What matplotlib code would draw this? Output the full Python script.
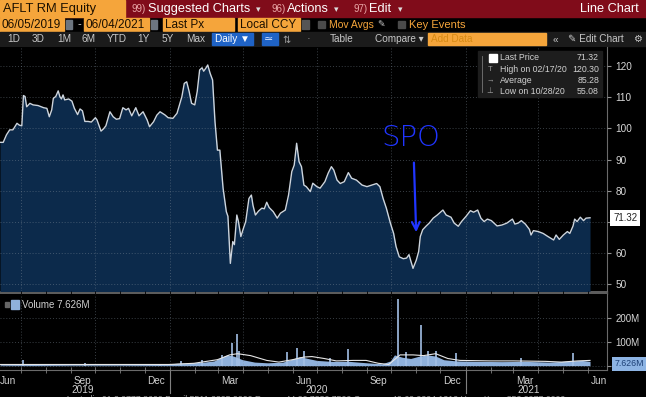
import matplotlib
matplotlib.use('Agg')
import matplotlib.pyplot as plt
import matplotlib.dates as mdates
import matplotlib.transforms as mtrans
from matplotlib.patches import Rectangle
import pandas as pd

plt.rcParams['font.family'] = ['Liberation Sans', 'DejaVu Sans']

# --- data ---
price_dates = [
    '2019-06-05', '2019-06-09', '2019-06-13', '2019-06-17', '2019-06-21', '2019-06-26', '2019-06-29',
    '2019-07-02', '2019-07-04', '2019-07-06', '2019-07-08', '2019-07-12', '2019-07-16', '2019-07-22',
    '2019-07-29', '2019-08-02', '2019-08-05', '2019-08-08', '2019-08-10', '2019-08-13', '2019-08-16',
    '2019-08-18', '2019-08-20', '2019-08-22', '2019-08-24', '2019-08-29', '2019-09-02', '2019-09-05',
    '2019-09-09', '2019-09-12', '2019-09-15', '2019-09-18', '2019-09-22', '2019-09-26', '2019-10-01',
    '2019-10-03', '2019-10-08', '2019-10-11', '2019-10-14', '2019-10-19', '2019-10-23', '2019-10-27',
    '2019-10-31', '2019-11-04', '2019-11-08', '2019-11-11', '2019-11-15', '2019-11-20', '2019-11-24',
    '2019-11-29', '2019-12-04', '2019-12-07', '2019-12-12', '2019-12-16', '2019-12-20', '2019-12-26',
    '2019-12-30', '2020-01-05', '2020-01-10', '2020-01-13', '2020-01-16', '2020-01-19', '2020-01-22',
    '2020-01-25', '2020-01-28', '2020-02-01', '2020-02-04', '2020-02-07', '2020-02-10', '2020-02-12',
    '2020-02-15', '2020-02-17', '2020-02-20', '2020-02-23', '2020-02-26', '2020-02-29', '2020-03-03',
    '2020-03-07', '2020-03-11', '2020-03-13', '2020-03-16', '2020-03-19', '2020-03-21', '2020-03-24',
    '2020-03-26', '2020-03-29', '2020-04-01', '2020-04-04', '2020-04-08', '2020-04-11', '2020-04-13',
    '2020-04-16', '2020-04-20', '2020-04-24', '2020-04-27', '2020-04-30', '2020-05-03', '2020-05-08',
    '2020-05-13', '2020-05-17', '2020-05-23', '2020-05-27', '2020-05-31', '2020-06-03', '2020-06-06',
    '2020-06-09', '2020-06-12', '2020-06-15', '2020-06-18', '2020-06-23', '2020-06-26', '2020-07-01',
    '2020-07-05', '2020-07-11', '2020-07-15', '2020-07-19', '2020-07-22', '2020-07-26', '2020-07-30',
    '2020-08-04', '2020-08-09', '2020-08-13', '2020-08-19', '2020-08-26', '2020-09-01', '2020-09-07',
    '2020-09-13', '2020-09-17', '2020-09-21', '2020-09-25', '2020-09-30', '2020-10-04', '2020-10-07',
    '2020-10-11', '2020-10-16', '2020-10-20', '2020-10-23', '2020-10-28', '2020-11-01', '2020-11-04',
    '2020-11-06', '2020-11-09', '2020-11-13', '2020-11-17', '2020-11-22', '2020-11-27', '2020-12-04',
    '2020-12-08', '2020-12-14', '2020-12-18', '2020-12-23', '2020-12-27', '2021-01-02', '2021-01-07',
    '2021-01-11', '2021-01-16', '2021-01-20', '2021-01-24', '2021-01-28', '2021-02-02', '2021-02-09',
    '2021-02-15', '2021-02-21', '2021-02-28', '2021-03-03', '2021-03-07', '2021-03-11', '2021-03-16',
    '2021-03-21', '2021-03-23', '2021-03-26', '2021-04-01', '2021-04-07', '2021-04-13', '2021-04-20',
    '2021-04-23', '2021-04-27', '2021-05-02', '2021-05-07', '2021-05-10', '2021-05-14', '2021-05-16',
    '2021-05-19', '2021-05-23', '2021-05-27', '2021-05-30', '2021-06-04',
]
price_values = [
    95.5, 95.5, 97.9, 99.5, 99.5, 101.6, 101.0,
    100.8, 110.5, 110.2, 106.9, 108.0, 107.5, 107.3,
    106.6, 106.4, 103.7, 105.9, 109.6, 110.2, 112.0,
    110.2, 109.4, 110.7, 109.1, 109.4, 108.7, 106.4,
    104.4, 106.2, 105.6, 102.2, 102.2, 102.0, 103.4,
    102.7, 99.1, 99.8, 100.8, 105.3, 103.7, 102.9,
    103.1, 106.6, 105.9, 106.4, 104.0, 106.6, 104.0,
    105.3, 102.7, 100.5, 102.1, 104.2, 105.3, 104.3,
    103.4, 103.2, 104.8, 107.5, 110.1, 114.4, 114.9,
    111.8, 108.0, 107.5, 111.8, 118.7, 119.4, 118.3,
    119.4, 120.3, 117.6, 115.5, 102.1, 93.0, 93.0,
    80.8, 73.3, 71.8, 56.7, 63.7, 62.7, 72.2,
    70.1, 65.3, 67.8, 70.1, 77.5, 78.6, 75.3,
    72.2, 73.5, 74.4, 74.2, 76.3, 74.6, 73.3,
    71.2, 72.8, 73.8, 78.6, 86.1, 88.2, 95.2,
    89.3, 87.7, 81.8, 81.3, 79.7, 82.4, 81.3,
    80.8, 82.9, 85.6, 87.7, 86.6, 83.4, 82.3,
    82.9, 85.8, 84.0, 83.4, 81.8, 81.3, 81.8,
    82.3, 81.3, 77.5, 74.4, 69.6, 66.3, 62.1,
    58.8, 58.2, 58.4, 59.5, 55.1, 57.7, 60.5,
    65.3, 67.5, 68.6, 69.6, 71.2, 72.2, 73.8,
    72.2, 71.5, 69.6, 68.6, 70.1, 71.9, 73.6,
    73.1, 73.8, 71.2, 70.1, 70.9, 70.4, 68.7,
    69.0, 69.6, 70.9, 69.3, 69.6, 70.4, 69.3,
    67.6, 65.8, 67.2, 66.9, 66.3, 65.3, 64.2,
    65.8, 64.4, 65.8, 66.9, 66.3, 68.7, 70.9,
    70.1, 71.5, 70.4, 71.2, 71.32,
]

# volume in millions
vol_dates = [
    '2019-06-05', '2019-07-15', '2019-09-01', '2019-11-01', '2019-12-20', '2020-01-10', '2020-01-25',
    '2020-02-10', '2020-02-25', '2020-03-05', '2020-03-12', '2020-03-20', '2020-03-31', '2020-04-15',
    '2020-05-01', '2020-05-20', '2020-06-01', '2020-06-10', '2020-06-20', '2020-07-01', '2020-07-20',
    '2020-08-10', '2020-09-01', '2020-09-20', '2020-09-30', '2020-10-05', '2020-10-15', '2020-10-25',
    '2020-11-05', '2020-11-15', '2020-11-25', '2020-12-05', '2020-12-20', '2021-01-15', '2021-02-15',
    '2021-03-15', '2021-04-15', '2021-05-10', '2021-05-25', '2021-06-04',
]
vol_values = [
    4, 5, 4, 4, 5, 10, 12,
    14, 20, 35, 45, 40, 25, 15,
    12, 15, 28, 38, 30, 22, 18,
    18, 12, 8, 20, 45, 35, 30,
    40, 45, 40, 25, 20, 18, 17,
    18, 15, 20, 22, 18,
]
spike_dates = [
    '2019-07-03', '2019-09-18', '2019-12-20', '2020-01-15', '2020-02-10', '2020-03-06', '2020-03-18',
    '2020-03-24', '2020-03-27', '2020-05-25', '2020-06-06', '2020-06-15', '2020-07-17', '2020-08-09',
    '2020-10-09', '2020-10-19', '2020-11-07', '2020-11-16', '2020-11-26', '2020-12-20', '2021-03-10',
    '2021-05-14',
]
spike_values = [
    25, 12, 8, 20, 22, 45, 95,
    132, 60, 57, 74, 61, 30, 70,
    278, 55, 170, 60, 62, 53, 30,
    53,
]
ma_dates = [
    '2019-06-05', '2019-12-31', '2020-01-31', '2020-02-29', '2020-03-15', '2020-03-25', '2020-04-10',
    '2020-04-30', '2020-05-15', '2020-06-01', '2020-06-15', '2020-06-25', '2020-07-10', '2020-07-25',
    '2020-08-15', '2020-08-31', '2020-09-15', '2020-09-28', '2020-10-05', '2020-10-12', '2020-10-28',
    '2020-11-10', '2020-11-25', '2020-12-10', '2020-12-25', '2021-01-31', '2021-03-01', '2021-04-10',
    '2021-04-30', '2021-05-20', '2021-06-04',
]
ma_values = [
    5, 5, 10, 25, 45, 50, 42,
    22, 15, 25, 36, 38, 30, 20,
    22, 22, 10, 5, 25, 45, 45,
    42, 50, 30, 22, 20, 20, 18,
    15, 20, 22,
]

price_ticks = [50, 60, 70, 80, 90, 100, 110, 120]
legend_rows = ['Last Price', 'High on 02/17/20', 'Average', 'Low on 10/28/20']
legend_vals = ['71.32', '120.30', '85.28', '55.08']
last_volume = 7.626

price_dates = pd.to_datetime(price_dates)
vol_dates = pd.to_datetime(vol_dates)
spike_dates = pd.to_datetime(spike_dates)
ma_dates = pd.to_datetime(ma_dates)

W, H = 646, 397
RED = '#800c1a'
ORANGE = '#f5a53b'
BLUE = '#2035ff'
GRID = dict(color='#7f8c99', alpha=0.45, ls=(0, (1, 2)), lw=0.7)


def frac(x0, y0, x1, y1):
    # pixel box (top-left origin) -> figure fraction rect
    return [x0 / W, 1 - y1 / H, (x1 - x0) / W, (y1 - y0) / H]


fig = plt.figure(figsize=(6.46, 3.97), dpi=100)
fig.patch.set_facecolor('black')

# header / toolbar drawn in pixel coords
bg = fig.add_axes([0, 0, 1, 1])
bg.set_xlim(0, W)
bg.set_ylim(H, 0)
bg.axis('off')

bg.add_patch(Rectangle((0, 0), W, 17, color=RED))
bg.add_patch(Rectangle((0, 0), 125, 17, color=ORANGE))
bg.text(3, 9, 'AFLT RM Equity', color='#1c1000', fontsize=9.3, va='center')
for x, num, lab, arr in [(132, '99)', 'Suggested Charts', 256), (271, '96)', 'Actions', 334),
                         (353, '97)', 'Edit', 398)]:
    bg.text(x, 9, num, color='#eaa8a8', fontsize=7, va='center')
    bg.text(x + 16, 9, lab, color='white', fontsize=9.2, va='center')
    bg.text(arr, 9.5, '▾', color='#dddddd', fontsize=6.5, va='center')
bg.text(639, 9, 'Line Chart', color='white', fontsize=9.2, va='center', ha='right')

# row 2
for x0, x1, lab in [(0, 64, '06/05/2019'), (84, 149, '06/04/2021'), (163, 234, 'Last Px'),
                    (238, 300, 'Local CCY')]:
    bg.add_patch(Rectangle((x0, 18), x1 - x0, 13, color=ORANGE))
    bg.text(x0 + 2, 24.8, lab, color='#1c1000', fontsize=8.5, va='center')
for x0 in [66, 151]:
    bg.add_patch(Rectangle((x0, 20), 6, 9, color='#6c7580'))
bg.text(77, 24.5, '-', color='#dddddd', fontsize=8, va='center')
bg.add_patch(Rectangle((302, 20), 7, 9, color='#555555'))
bg.add_patch(Rectangle((318, 21), 7, 7, color='#4a4a4a'))
bg.text(329, 24.8, 'Mov Avgs', color=ORANGE, fontsize=7.5, va='center')
bg.text(377, 24.5, '✎', color='#cccccc', fontsize=6.5, va='center')
bg.add_patch(Rectangle((398, 21), 7, 7, color='#4a4a4a'))
bg.text(409, 24.8, 'Key Events', color=ORANGE, fontsize=8, va='center')

# row 3
bg.add_patch(Rectangle((0, 32), W, 14, color='#1b1b1b'))
for x, lab in [(7, '1D'), (32, '3D'), (57, '1M'), (82, '6M'), (107, 'YTD'), (137, '1Y'),
               (162, '5Y'), (186, 'Max'), (330, 'Table'), (375, 'Compare ▾'), (553, '«'),
               (568, '✎ Edit Chart'), (633, '⚙')]:
    bg.text(x, 39.5, lab, color='#c8c8c8', fontsize=7.2, va='center')
bg.add_patch(Rectangle((212, 33), 41, 12, color='#1f63c6'))
bg.text(215, 39.5, 'Daily ▼', color='white', fontsize=7.2, va='center')
bg.add_patch(Rectangle((262, 33), 16, 12, color='#1f63c6'))
bg.text(264, 39.5, '≃', color='#cfe0ff', fontsize=8, va='center')
bg.text(282, 39.5, '⇅', color='#a0a0a0', fontsize=7, va='center')
bg.text(307, 39.5, '·', color='#a0a0a0', fontsize=8, va='center')
bg.add_patch(Rectangle((428, 33), 118, 12, color=ORANGE))
bg.text(431, 39.5, 'Add Data', color='#d68a14', fontsize=7.2, va='center')

# panel separator + footer (cut by the bottom edge, as in the screenshot)
bg.add_patch(Rectangle((0, 290.5), 607, 3, color='#5c5c5c'))
bg.text(65, 395.5, 'Australia 61 2 9777 8600 Brazil 5511 2395 9000 Europe 44 20 7330 7500 '
        'Germany 49 69 9204 1210 Hong Kong 852 2977 6000', color='#9a9a9a', fontsize=6.3, va='top')

# --- price panel ---
ax = fig.add_axes(frac(0, 47, 607, 291))
ax.set_facecolor('black')
ax.fill_between(price_dates, price_values, 0, color='#0c2a4b', lw=0, zorder=1)
ax.plot(price_dates, price_values, color='#cdd5de', lw=1.0, zorder=3)
ax.set_ylim(47.85, 126.06)
ax.set_yticks(price_ticks)
# the last-price tag sits on top of the nearest tick label
ax.set_yticklabels(['' if abs(v - price_values[-1]) < 4 else str(v) for v in price_ticks])
ax.yaxis.tick_right()
ax.tick_params(axis='y', colors='#909090', labelcolor='#d8d8d8', labelsize=7.2,
               length=3, width=0.8, pad=3)
ax.tick_params(axis='x', length=0, labelbottom=False)
for s in ['top', 'left', 'bottom']:
    ax.spines[s].set_visible(False)
ax.spines['right'].set_color('#6a6a6a')
ax.set_axisbelow(False)
ax.yaxis.grid(True, **GRID)

# last price tag
trans = mtrans.blended_transform_factory(ax.transAxes, ax.transData)
ax.text(1.01, price_values[-1], f'{price_values[-1]:.2f}', transform=trans, fontsize=7,
        color='#222222', va='center', ha='left', clip_on=False, zorder=10,
        bbox=dict(boxstyle='square,pad=0.3', fc='white', ec='none'))

# hand-drawn SPO annotation
ax.text(pd.Timestamp('2020-10-25'), 96.8, 'SPO', color=BLUE, fontsize=21, ha='center',
        va='center', family='DejaVu Sans', fontweight='light', zorder=6)
ax.annotate('', xy=(pd.Timestamp('2020-11-01'), 65.8), xytext=(pd.Timestamp('2020-10-29'), 89.9),
            arrowprops=dict(arrowstyle='->', color=BLUE, lw=1.6, mutation_scale=14), zorder=6)

# --- volume panel ---
axv = fig.add_axes(frac(0, 294, 607, 370), sharex=ax)
axv.set_facecolor('black')
axv.fill_between(vol_dates, vol_values, 0, color='#8fb1dc', lw=0, zorder=1)
axv.vlines(spike_dates, 0, spike_values, color='#a3c0e6', lw=1.2, zorder=2)
axv.plot(ma_dates, ma_values, color='#e6e6e6', lw=0.8, zorder=3)
axv.set_ylim(-18, 299)
axv.set_yticks([0, 100, 200])
axv.set_yticklabels(['', '100M', '200M'])
axv.yaxis.tick_right()
axv.tick_params(axis='y', colors='#909090', labelcolor='#d8d8d8', labelsize=7,
                length=3, width=0.8, pad=3)
for s in ['top', 'left']:
    axv.spines[s].set_visible(False)
axv.spines['right'].set_color('#6a6a6a')
axv.spines['bottom'].set_color('#6a6a6a')
axv.set_axisbelow(False)
axv.yaxis.grid(True, **GRID)

axv.set_xlim(pd.Timestamp('2019-06-05'), pd.Timestamp('2021-06-25'))
axv.xaxis.set_major_locator(mdates.MonthLocator(bymonth=[3, 6, 9, 12], bymonthday=15))
axv.xaxis.set_major_formatter(mdates.DateFormatter('%b'))
axv.xaxis.set_minor_locator(mdates.MonthLocator())
axv.tick_params(axis='x', which='major', length=0, pad=4, labelcolor='#d0d0d0', labelsize=7.2)
axv.tick_params(axis='x', which='minor', length=4, direction='inout', color='#808080')

vtrans = mtrans.blended_transform_factory(axv.transAxes, axv.transData)
axv.text(1.012, last_volume, f'{last_volume:.3f}M', transform=vtrans, fontsize=6.3,
         color='#1c3f75', va='center', ha='left', clip_on=False, zorder=10,
         bbox=dict(boxstyle='square,pad=0.25', fc='#8db4e4', ec='none'))

# quarter gridlines in both panels
for d in pd.date_range('2019-07-01', '2021-06-01', freq='QS'):
    for a in (ax, axv):
        a.axvline(d, zorder=2, **GRID)

# year labels and separators
xtrans = mtrans.blended_transform_factory(axv.transData, axv.transAxes)
for lab, d in zip(['2019', '2020', '2021'], ['2019-09-15', '2020-07-01', '2021-03-20']):
    axv.text(pd.Timestamp(d), -0.26, lab, transform=xtrans, ha='center', va='center',
             color='#d0d0d0', fontsize=7.2)
for d in pd.date_range('2020-01-01', '2021-01-01', freq='YS'):
    axv.plot([d, d], [0, -0.3], transform=xtrans, color='#808080', lw=0.8, clip_on=False)

# legends (pixel overlay)
ov = fig.add_axes([0, 0, 1, 1])
ov.set_xlim(0, W)
ov.set_ylim(H, 0)
ov.axis('off')
ov.add_patch(Rectangle((478, 51), 124, 46, color='#1d1d1d'))
ov.plot([482, 482], [56, 92], color='#777777', lw=0.6)
ov.add_patch(Rectangle((489, 54), 8, 8, color='white'))
for i, (lab, val) in enumerate(zip(legend_rows, legend_vals)):
    y = 58 + i * 11.3
    ov.text(500, y, lab, color='#d0d0d0', fontsize=6.3, va='center')
    ov.text(599, y, val, color='#d0d0d0', fontsize=6.3, va='center', ha='right')
for i, g in [(1, 'T'), (2, '→'), (3, '⊥')]:
    ov.text(490, 58 + i * 11.3, g, color='#9a9a9a', fontsize=5.5, va='center', ha='center')

ov.add_patch(Rectangle((5, 302), 4, 5, color='#666666'))
ov.add_patch(Rectangle((11, 300), 8, 9, color='#8fb1dc'))
ov.text(22, 305, f'Volume {last_volume:.3f}M', color='#d0d0d0', fontsize=7, va='center')

fig.savefig('out.png', dpi=100, facecolor='black')
